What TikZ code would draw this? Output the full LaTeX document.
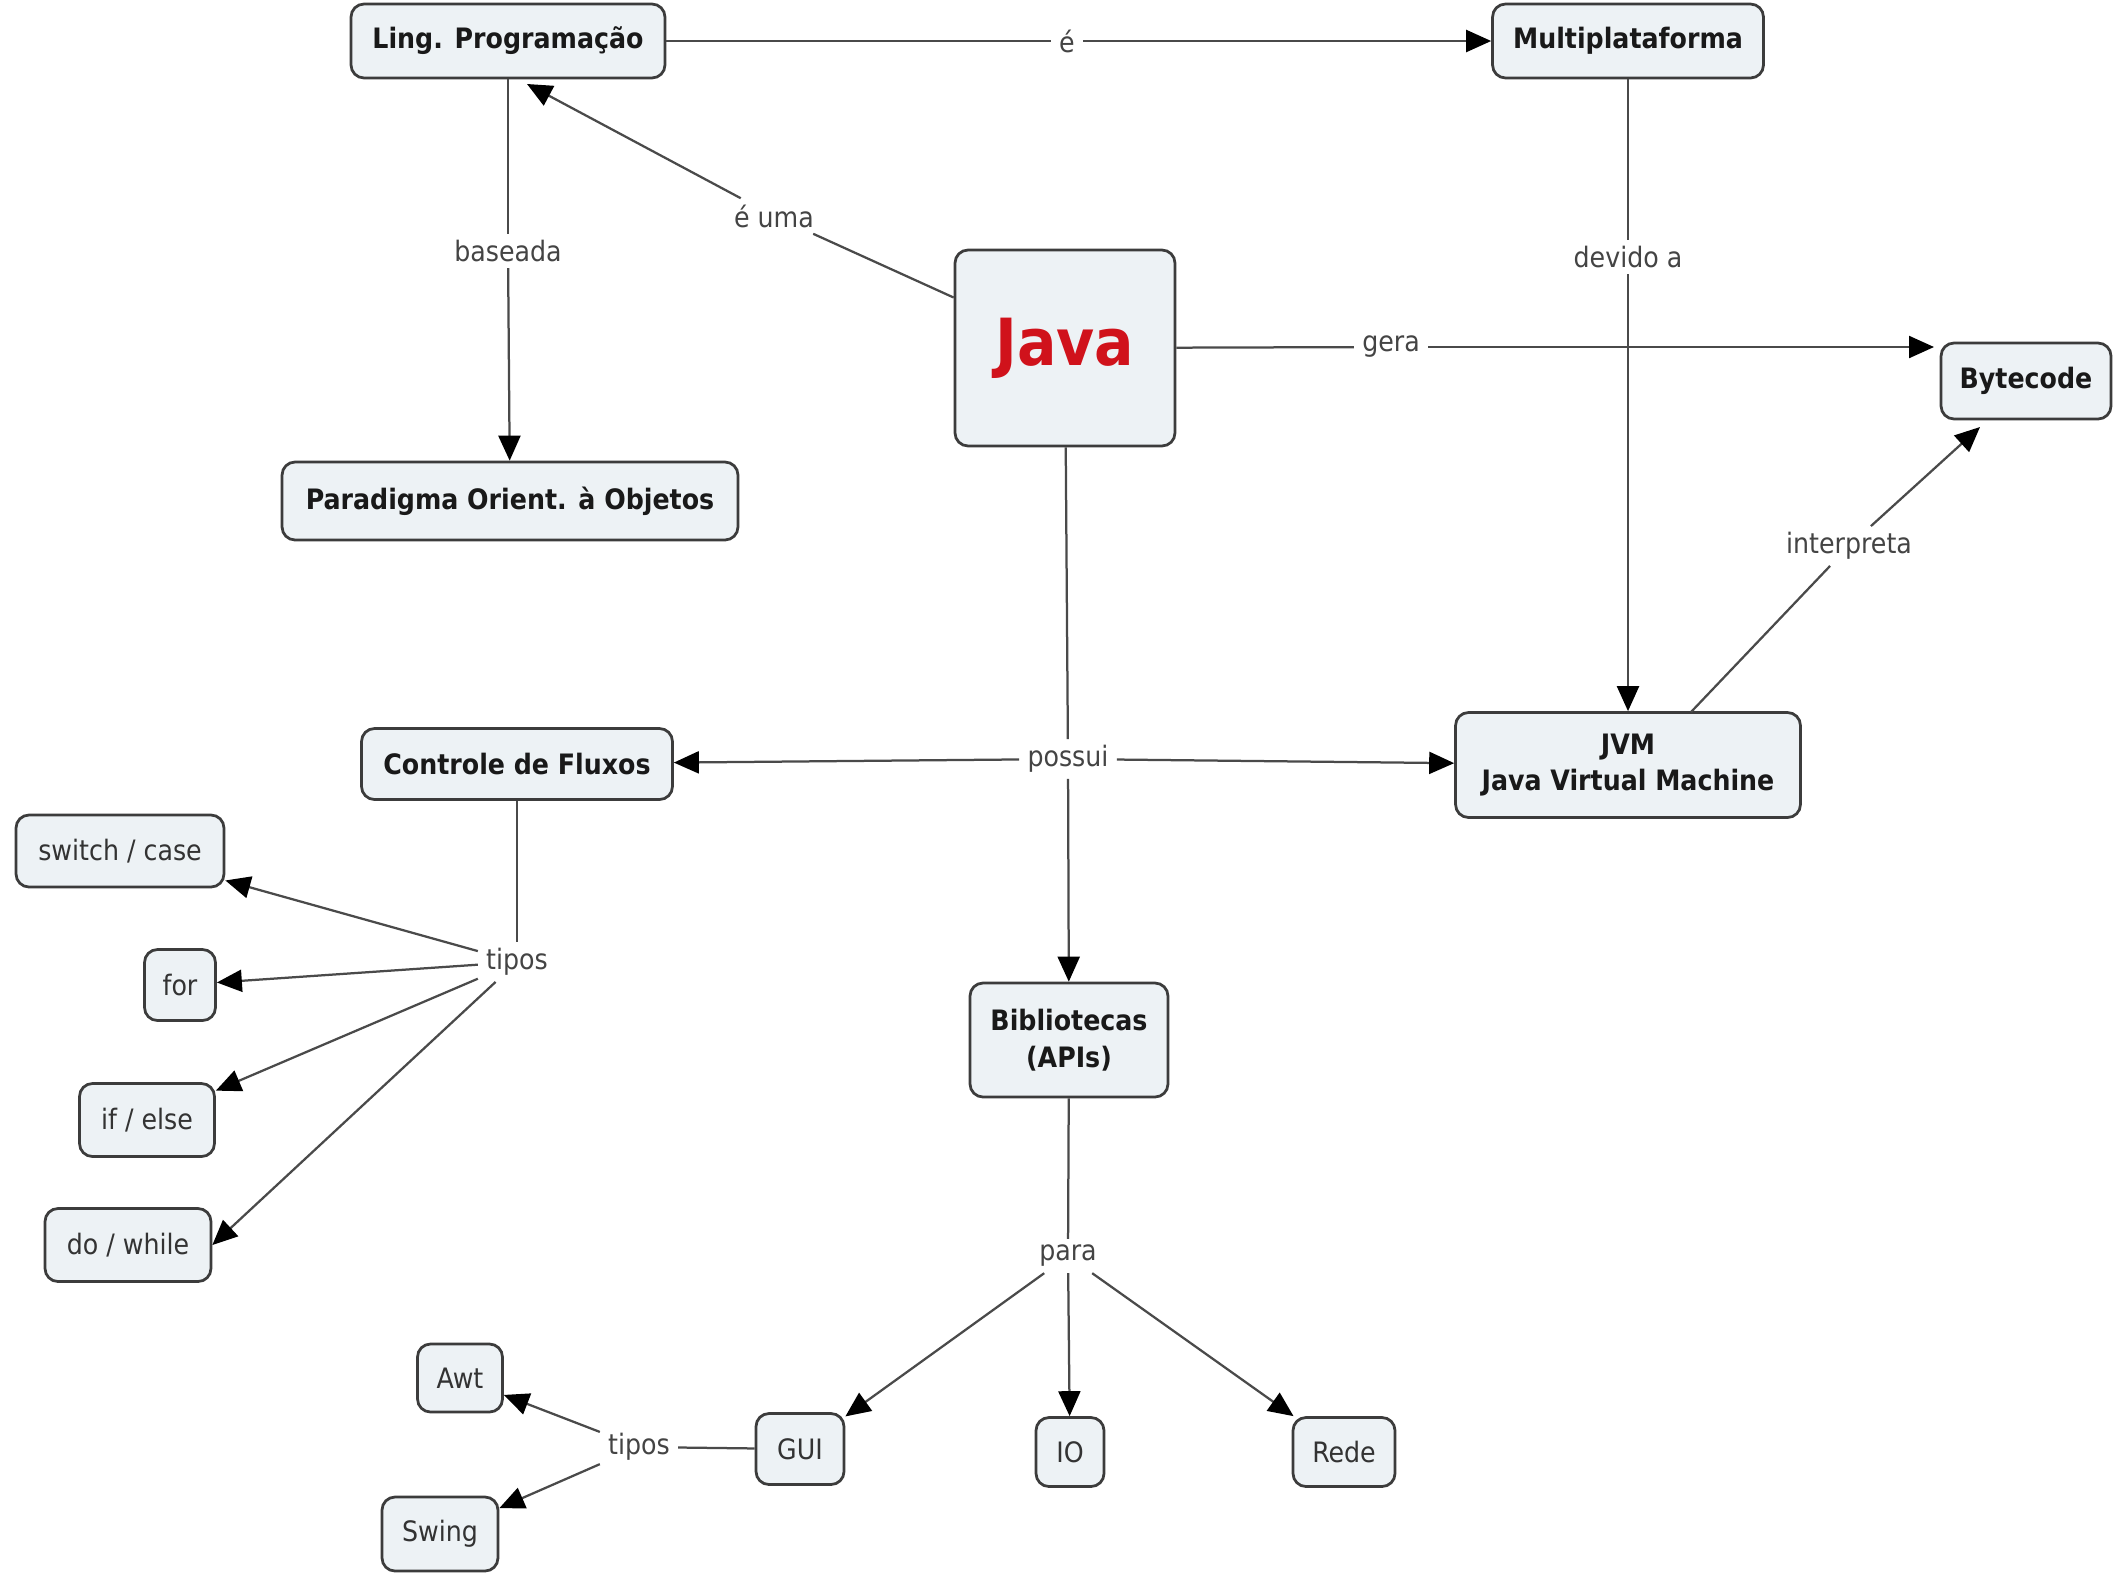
\documentclass[tikz,border=0pt]{standalone}
\usepackage{fontspec}
\setmainfont{DejaVu Sans Condensed}
\usetikzlibrary{arrows.meta,calc}
\definecolor{nodefill}{HTML}{EDF2F5}
\definecolor{nodeborder}{HTML}{3C3C3C}
\definecolor{linecol}{HTML}{4A4A4A}
\definecolor{labeltext}{HTML}{444444}
\definecolor{javared}{HTML}{D0121B}
\begin{document}
\begin{tikzpicture}[x=0.02cm,y=-0.02cm,
  concept/.style={draw=nodeborder, line width=0.055cm, fill=nodefill, rounded corners=0.26cm, inner sep=0pt, align=center, font=\bfseries\fontsize{16}{21}\selectfont, text=black!90},
  plainc/.style={concept, font=\fontsize{16}{21}\selectfont, text=black!80},
  lbl/.style={fill=white, inner xsep=0.16cm, inner ysep=0.12cm, font=\fontsize{16}{19}\selectfont, text=labeltext},
  link/.style={draw=linecol, line width=0.045cm},
  arr/.style={link, -{Triangle[length=0.5cm,width=0.44cm,fill=black,color=black]}},
]
\useasboundingbox[fill=white] (0,0) rectangle (2118,1587);

% concepts
\node[concept, minimum width=6.28cm, minimum height=1.48cm] (ling) at (508,41) {Ling. Programação};
\node[concept, minimum width=5.42cm, minimum height=1.48cm] (multi) at (1628,41) {Multiplataforma};
\node[concept, minimum width=4.4cm, minimum height=3.92cm, font=\bfseries\fontsize{37}{40}\selectfont, text=javared] (java) at (1065,348) {Java};
\node[concept, minimum width=9.12cm, minimum height=1.56cm] (parad) at (510,501) {Paradigma Orient. à Objetos};
\node[concept, minimum width=3.4cm, minimum height=1.52cm] (byte) at (2026,381) {Bytecode};
\node[concept, minimum width=6.9cm, minimum height=2.1cm] (jvm) at (1628,765) {JVM\\Java Virtual Machine};
\node[concept, minimum width=6.22cm, minimum height=1.42cm] (ctrl) at (517,764) {Controle de Fluxos};
\node[concept, minimum width=3.96cm, minimum height=2.28cm] (bib) at (1069,1040) {Bibliotecas\\(APIs)};
\node[plainc, minimum width=4.16cm, minimum height=1.44cm] (switch) at (120,851) {switch / case};
\node[plainc, minimum width=1.42cm, minimum height=1.42cm] (for) at (180,985) {for};
\node[plainc, minimum width=2.7cm, minimum height=1.46cm] (ifelse) at (147,1120) {if / else};
\node[plainc, minimum width=3.32cm, minimum height=1.46cm] (dowhile) at (128,1245) {do / while};
\node[plainc, minimum width=1.7cm, minimum height=1.36cm] (awt) at (460,1378) {Awt};
\node[plainc, minimum width=2.32cm, minimum height=1.48cm] (swing) at (440,1534) {Swing};
\node[plainc, minimum width=1.76cm, minimum height=1.42cm] (gui) at (800,1449) {GUI};
\node[plainc, minimum width=1.36cm, minimum height=1.38cm] (io) at (1070,1452) {IO};
\node[plainc, minimum width=2.04cm, minimum height=1.38cm] (rede) at (1344,1452) {Rede};

% linking phrases
\node[lbl] (e) at (1067,41) {é};
\node[lbl] (euma) at (774,216) {é uma};
\node[lbl] (baseada) at (508,251) {baseada};
\node[lbl] (devido) at (1628,257) {devido a};
\node[lbl] (gera) at (1391,347) {gera};
\node[lbl] (interp) at (1849,546) {interpreta};
\node[lbl] (possui) at (1068,759) {possui};
\node[lbl] (tipos1) at (517,962) {tipos};
\node[lbl] (para) at (1068,1256) {para};
\node[lbl] (tipos2) at (639,1447) {tipos};

% free ends
\coordinate (lingtip) at (527,84);
\coordinate (bytetip) at (1934,347);
\coordinate (jvmtop) at (1691,712);
\coordinate (bytetip2) at (1980,427);

% connectors
\draw[link] (ling) -- (e);
\draw[arr] (e) -- (multi);
\draw[link] (java) -- (euma);
\draw[arr] (euma) -- (lingtip);
\draw[link] (ling) -- (baseada);
\draw[arr] (baseada) -- (parad);
\draw[link] (multi) -- (devido);
\draw[arr] (devido) -- (jvm);
\draw[link] (java) -- (gera);
\draw[arr] (gera) -- (bytetip);
\draw[link] (jvmtop) -- (interp);
\draw[arr] (interp) -- (bytetip2);
\draw[link] (java) -- (possui);
\draw[arr] (possui) -- (ctrl);
\draw[arr] (possui) -- (jvm);
\draw[arr] (possui) -- (bib);
\draw[link] (ctrl) -- (tipos1);
\draw[arr] (tipos1) -- (switch);
\draw[arr] (tipos1) -- (for);
\draw[arr] (tipos1) -- (ifelse);
\draw[arr] (tipos1) -- (dowhile.east);
\draw[link] (bib) -- (para);
\draw[arr] (para) -- (gui);
\draw[arr] (para) -- (io);
\draw[arr] (para) -- (rede);
\draw[link] (gui) -- (tipos2);
\draw[arr] (tipos2) -- (awt);
\draw[arr] (tipos2) -- (swing);
\end{tikzpicture}
\end{document}
